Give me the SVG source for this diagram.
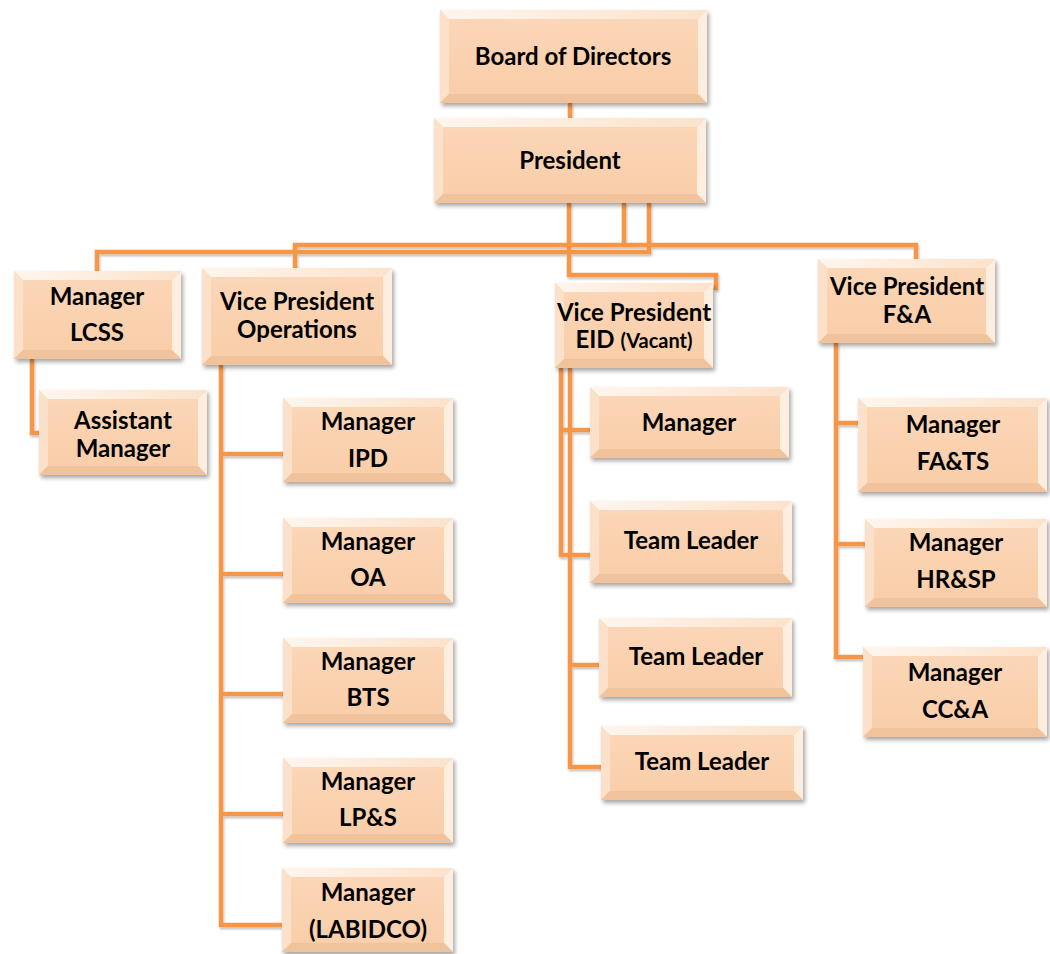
<svg xmlns="http://www.w3.org/2000/svg" width="1050" height="954" viewBox="0 0 1050 954">
<defs>
<filter id="sh" x="-10%" y="-10%" width="125%" height="130%">
<feDropShadow dx="2" dy="3" stdDeviation="2.2" flood-color="#000" flood-opacity="0.35"/>
</filter>
<filter id="lsh" x="-10%" y="-10%" width="120%" height="120%">
<feDropShadow dx="1" dy="2" stdDeviation="1.2" flood-color="#000" flood-opacity="0.25"/>
</filter>
<linearGradient id="gt" x1="0" y1="0" x2="1" y2="0">
<stop offset="0" stop-color="#FFF6EE"/>
<stop offset="1" stop-color="#FCE2CB"/>
</linearGradient>
<linearGradient id="gf" x1="0" y1="0" x2="0" y2="1">
<stop offset="0" stop-color="#FBD7B9"/>
<stop offset="1" stop-color="#F9CDA8"/>
</linearGradient>
</defs>
<style>
.f{fill:url(#gf);filter:url(#sh)}
.t{fill:url(#gt)}
.l{fill:#FCE1CA}
.r{fill:#FEEEE0}
.b{fill:#F1C39C}
text{font-family:Lato,"Open Sans","Liberation Sans",sans-serif;font-weight:bold;font-size:24px;fill:#000;text-anchor:middle}
.sm{font-size:20px}
.c{fill:none;stroke:#F79646;stroke-width:4.5;stroke-linejoin:miter}
</style>

<g id="connectors" filter="url(#lsh)">
<path class="c" d="M570 103 V118"/>
<path class="c" d="M624 203 V245 H295 V268"/>
<path class="c" d="M649 203 V252 H97 V271"/>
<path class="c" d="M624 245 H916 V259"/>
<path class="c" d="M569 203 V275 H716 V290"/>
<path class="c" d="M32 359 V433 H39"/>
<path class="c" d="M221 365 V925 H282"/>
<path class="c" d="M221 454 H283 M221 574 H283 M221 694 H283 M221 814 H283"/>
<path class="c" d="M561 368 V555 H590 M561 430 H590"/>
<path class="c" d="M570 368 V767 H601 M570 665 H599"/>
<path class="c" d="M836 343 V657 H863 M836 423 H858 M836 544 H865"/>
</g>

<g id="board">
<rect class="f" x="440" y="10" width="267" height="93"/>
<polygon class="t" points="440,10 707,10 698,19 449,19"/>
<polygon class="l" points="440,10 449,19 449,94 440,103"/>
<polygon class="r" points="707,10 707,103 698,94 698,19"/>
<polygon class="b" points="440,103 707,103 698,94 449,94"/>
<text x="573" y="65">Board of Directors</text>
</g>

<g id="president">
<rect class="f" x="434" y="118" width="272" height="85"/>
<polygon class="t" points="434,118 706,118 697,127 443,127"/>
<polygon class="l" points="434,118 443,127 443,194 434,203"/>
<polygon class="r" points="706,118 706,203 697,194 697,127"/>
<polygon class="b" points="434,203 706,203 697,194 443,194"/>
<text x="570" y="169">President</text>
</g>

<g id="mgr-lcss">
<rect class="f" x="14" y="271" width="167" height="88"/>
<polygon class="t" points="14,271 181,271 172,280 23,280"/>
<polygon class="l" points="14,271 23,280 23,350 14,359"/>
<polygon class="r" points="181,271 181,359 172,350 172,280"/>
<polygon class="b" points="14,359 181,359 172,350 23,350"/>
<text x="97" y="305">Manager</text>
<text x="97" y="341">LCSS</text>
</g>

<g id="asst-mgr">
<rect class="f" x="39" y="390" width="168" height="85"/>
<polygon class="t" points="39,390 207,390 198,399 48,399"/>
<polygon class="l" points="39,390 48,399 48,466 39,475"/>
<polygon class="r" points="207,390 207,475 198,466 198,399"/>
<polygon class="b" points="39,475 207,475 198,466 48,466"/>
<text x="123" y="429">Assistant</text>
<text x="123" y="457">Manager</text>
</g>

<g id="vp-ops">
<rect class="f" x="202" y="268" width="190" height="97"/>
<polygon class="t" points="202,268 392,268 383,277 211,277"/>
<polygon class="l" points="202,268 211,277 211,356 202,365"/>
<polygon class="r" points="392,268 392,365 383,356 383,277"/>
<polygon class="b" points="202,365 392,365 383,356 211,356"/>
<text x="297" y="310">Vice President</text>
<text x="297" y="338">Operations</text>
</g>

<g id="mgr-ipd">
<rect class="f" x="283" y="398" width="170" height="84"/>
<polygon class="t" points="283,398 453,398 444,407 292,407"/>
<polygon class="l" points="283,398 292,407 292,473 283,482"/>
<polygon class="r" points="453,398 453,482 444,473 444,407"/>
<polygon class="b" points="283,482 453,482 444,473 292,473"/>
<text x="368" y="430">Manager</text>
<text x="368" y="467">IPD</text>
</g>

<g id="mgr-oa">
<rect class="f" x="283" y="518" width="170" height="85"/>
<polygon class="t" points="283,518 453,518 444,527 292,527"/>
<polygon class="l" points="283,518 292,527 292,594 283,603"/>
<polygon class="r" points="453,518 453,603 444,594 444,527"/>
<polygon class="b" points="283,603 453,603 444,594 292,594"/>
<text x="368" y="550">Manager</text>
<text x="368" y="586">OA</text>
</g>

<g id="mgr-bts">
<rect class="f" x="283" y="638" width="170" height="85"/>
<polygon class="t" points="283,638 453,638 444,647 292,647"/>
<polygon class="l" points="283,638 292,647 292,714 283,723"/>
<polygon class="r" points="453,638 453,723 444,714 444,647"/>
<polygon class="b" points="283,723 453,723 444,714 292,714"/>
<text x="368" y="670">Manager</text>
<text x="368" y="706">BTS</text>
</g>

<g id="mgr-lps">
<rect class="f" x="283" y="758" width="170" height="85"/>
<polygon class="t" points="283,758 453,758 444,767 292,767"/>
<polygon class="l" points="283,758 292,767 292,834 283,843"/>
<polygon class="r" points="453,758 453,843 444,834 444,767"/>
<polygon class="b" points="283,843 453,843 444,834 292,834"/>
<text x="368" y="790">Manager</text>
<text x="368" y="826">LP&amp;S</text>
</g>

<g id="mgr-labidco">
<rect class="f" x="282" y="868" width="171" height="84"/>
<polygon class="t" points="282,868 453,868 444,877 291,877"/>
<polygon class="l" points="282,868 291,877 291,943 282,952"/>
<polygon class="r" points="453,868 453,952 444,943 444,877"/>
<polygon class="b" points="282,952 453,952 444,943 291,943"/>
<text x="368" y="901">Manager</text>
<text x="368" y="938">(LABIDCO)</text>
</g>

<g id="vp-eid">
<rect class="f" x="555" y="283" width="158" height="85"/>
<polygon class="t" points="555,283 713,283 704,292 564,292"/>
<polygon class="l" points="555,283 564,292 564,359 555,368"/>
<polygon class="r" points="713,283 713,368 704,359 704,292"/>
<polygon class="b" points="555,368 713,368 704,359 564,359"/>
<text x="634" y="321">Vice President</text>
<text x="634" y="348">EID <tspan class="sm">(Vacant)</tspan></text>
</g>

<g id="eid-mgr">
<rect class="f" x="590" y="387" width="199" height="71"/>
<polygon class="t" points="590,387 789,387 780,396 599,396"/>
<polygon class="l" points="590,387 599,396 599,449 590,458"/>
<polygon class="r" points="789,387 789,458 780,449 780,396"/>
<polygon class="b" points="590,458 789,458 780,449 599,449"/>
<text x="689" y="431">Manager</text>
</g>

<g id="team-leader-1">
<rect class="f" x="590" y="501" width="202" height="82"/>
<polygon class="t" points="590,501 792,501 783,510 599,510"/>
<polygon class="l" points="590,501 599,510 599,574 590,583"/>
<polygon class="r" points="792,501 792,583 783,574 783,510"/>
<polygon class="b" points="590,583 792,583 783,574 599,574"/>
<text x="691" y="549">Team Leader</text>
</g>

<g id="team-leader-2">
<rect class="f" x="599" y="618" width="193" height="79"/>
<polygon class="t" points="599,618 792,618 783,627 608,627"/>
<polygon class="l" points="599,618 608,627 608,688 599,697"/>
<polygon class="r" points="792,618 792,697 783,688 783,627"/>
<polygon class="b" points="599,697 792,697 783,688 608,688"/>
<text x="696" y="665">Team Leader</text>
</g>

<g id="team-leader-3">
<rect class="f" x="601" y="726" width="202" height="74"/>
<polygon class="t" points="601,726 803,726 794,735 610,735"/>
<polygon class="l" points="601,726 610,735 610,791 601,800"/>
<polygon class="r" points="803,726 803,800 794,791 794,735"/>
<polygon class="b" points="601,800 803,800 794,791 610,791"/>
<text x="702" y="770">Team Leader</text>
</g>

<g id="vp-fa">
<rect class="f" x="818" y="259" width="177" height="84"/>
<polygon class="t" points="818,259 995,259 986,268 827,268"/>
<polygon class="l" points="818,259 827,268 827,334 818,343"/>
<polygon class="r" points="995,259 995,343 986,334 986,268"/>
<polygon class="b" points="818,343 995,343 986,334 827,334"/>
<text x="907" y="295">Vice President</text>
<text x="907" y="323">F&amp;A</text>
</g>

<g id="mgr-fats">
<rect class="f" x="858" y="398" width="189" height="94"/>
<polygon class="t" points="858,398 1047,398 1038,407 867,407"/>
<polygon class="l" points="858,398 867,407 867,483 858,492"/>
<polygon class="r" points="1047,398 1047,492 1038,483 1038,407"/>
<polygon class="b" points="858,492 1047,492 1038,483 867,483"/>
<text x="953" y="433">Manager</text>
<text x="953" y="470">FA&amp;TS</text>
</g>

<g id="mgr-hrsp">
<rect class="f" x="865" y="519" width="182" height="88"/>
<polygon class="t" points="865,519 1047,519 1038,528 874,528"/>
<polygon class="l" points="865,519 874,528 874,598 865,607"/>
<polygon class="r" points="1047,519 1047,607 1038,598 1038,528"/>
<polygon class="b" points="865,607 1047,607 1038,598 874,598"/>
<text x="956" y="551">Manager</text>
<text x="956" y="588">HR&amp;SP</text>
</g>

<g id="mgr-cca">
<rect class="f" x="863" y="647" width="184" height="90"/>
<polygon class="t" points="863,647 1047,647 1038,656 872,656"/>
<polygon class="l" points="863,647 872,656 872,728 863,737"/>
<polygon class="r" points="1047,647 1047,737 1038,728 1038,656"/>
<polygon class="b" points="863,737 1047,737 1038,728 872,728"/>
<text x="955" y="681">Manager</text>
<text x="955" y="718">CC&amp;A</text>
</g>
</svg>
